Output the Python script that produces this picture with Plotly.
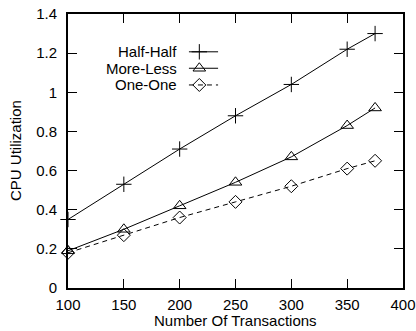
import plotly.graph_objects as go

transactions = [100, 150, 200, 250, 300, 350, 375]
half_half = [0.35, 0.53, 0.71, 0.88, 1.04, 1.22, 1.30]
more_less = [0.19, 0.30, 0.42, 0.54, 0.67, 0.83, 0.92]
one_one = [0.18, 0.27, 0.36, 0.44, 0.52, 0.61, 0.65]

series_names = ["Half-Half", "More-Less", "One-One"]
x_ticks = [100, 150, 200, 250, 300, 350, 400]
y_ticks = [0, 0.2, 0.4, 0.6, 0.8, 1.0, 1.2, 1.4]
y_tick_labels = ["0", "0.2", "0.4", "0.6", "0.8", "1", "1.2", "1.4"]

FONT = "Liberation Sans, Arial, Helvetica, sans-serif"
W, H = 416, 331
ML, MT, MR, MB = 68, 14, 13, 43
PW, PH = W - ML - MR, H - MT - MB

styles = [
    dict(symbol="cross-thin-open", size=11, dash="solid"),
    dict(symbol="triangle-up-open", size=11, dash="solid"),
    dict(symbol="diamond-open", size=10, dash="5px,4px"),
]

fig = go.Figure()
for name, vals, st in zip(series_names, [half_half, more_less, one_one], styles):
    fig.add_trace(go.Scatter(
        x=transactions, y=vals, name=name, mode="lines+markers",
        line=dict(color="black", width=1, dash=st["dash"]),
        marker=dict(symbol=st["symbol"], size=st["size"], color="black",
                    line=dict(color="black", width=1)),
        showlegend=False, cliponaxis=False,
    ))

# custom gnuplot-style legend (text left, sample right)
leg_text_x = 0.331
leg_line = (0.361, 0.448)
leg_marker_x = 0.392
leg_rows = [0.862, 0.802, 0.741]
for name, st, yy in zip(series_names, styles, leg_rows):
    fig.add_annotation(x=leg_text_x, y=yy, xref="paper", yref="paper",
                       text=name, showarrow=False, xanchor="right", yanchor="middle",
                       font=dict(family=FONT, size=15, color="black"))
    fig.add_shape(type="line", xref="paper", yref="paper",
                  x0=leg_line[0], x1=leg_line[1], y0=yy, y1=yy,
                  line=dict(color="black", width=1, dash=st["dash"]))
    fig.add_trace(go.Scatter(
        x=[leg_marker_x], y=[yy], xaxis="x2", yaxis="y2", mode="markers",
        marker=dict(symbol=st["symbol"], size=st["size"], color="black",
                    line=dict(color="black", width=1)),
        showlegend=False, hoverinfo="skip", cliponaxis=False,
    ))

# axis titles as annotations (fixed placement)
fig.add_annotation(x=0.5, y=-(320 - (MT + PH)) / PH, xref="paper", yref="paper",
                   text="Number Of Transactions", showarrow=False,
                   xanchor="center", yanchor="middle",
                   font=dict(family=FONT, size=15, color="black"))
fig.add_annotation(x=-(ML - 15) / PW, y=0.5, xref="paper", yref="paper",
                   text="CPU Utilization", showarrow=False, textangle=-90,
                   xanchor="center", yanchor="middle",
                   font=dict(family=FONT, size=15, color="black"))

axis_common = dict(
    showline=True, linecolor="black", linewidth=2, mirror="ticks",
    ticks="inside", ticklen=9, tickwidth=1.2, tickcolor="black",
    showgrid=False, zeroline=False, automargin=False,
    ticklabeloverflow="allow",
    tickfont=dict(family=FONT, size=15, color="black"),
)

fig.update_layout(
    width=W, height=H,
    margin=dict(l=ML, r=MR, t=MT, b=MB, autoexpand=False),
    paper_bgcolor="white", plot_bgcolor="white",
    font=dict(family=FONT, size=15, color="black"),
    xaxis=dict(range=[100, 400], tickvals=x_ticks, ticklabelstandoff=2, **axis_common),
    yaxis=dict(range=[0, 1.4], tickvals=y_ticks, ticktext=y_tick_labels,
               ticklabelstandoff=6, **axis_common),
    xaxis2=dict(range=[0, 1], overlaying="x", anchor="y2", visible=False),
    yaxis2=dict(range=[0, 1], overlaying="y", anchor="x2", visible=False),
)

fig.write_html(
    "out.html",
    config={"displayModeBar": False},
    post_script="document.body.style.margin='0';document.body.style.overflow='hidden';",
)
